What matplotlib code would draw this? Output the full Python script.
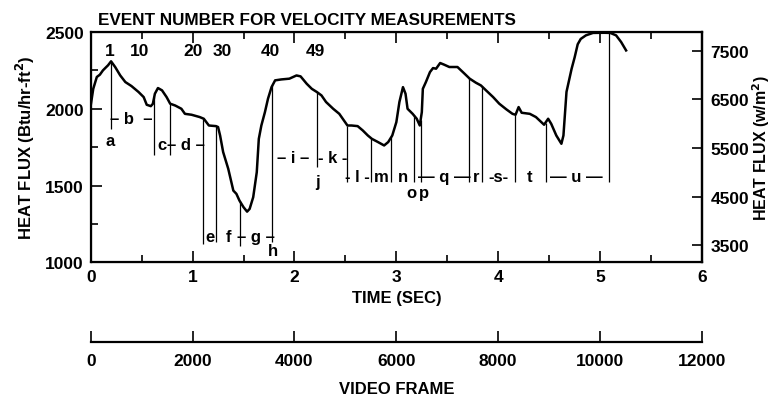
import matplotlib
matplotlib.use("Agg")
import matplotlib.pyplot as plt
import numpy as np

plt.rcParams['font.family'] = ['Liberation Sans', 'DejaVu Sans']
plt.rcParams['font.weight'] = 'bold'
plt.rcParams['axes.labelweight'] = 'bold'

# heat flux trace (time in s, Btu/hr-ft2)
time_s = [0.0, 0.025, 0.06, 0.09, 0.12, 0.15, 0.17, 0.20, 0.24, 0.29, 0.34, 0.40,
          0.47, 0.52, 0.55, 0.59, 0.61, 0.63, 0.66, 0.70, 0.745, 0.78, 0.83, 0.89,
          0.925, 0.99, 1.07, 1.11, 1.16, 1.23, 1.25, 1.27, 1.30, 1.35, 1.40, 1.43,
          1.46, 1.50, 1.535, 1.56, 1.595, 1.63, 1.65, 1.675, 1.71, 1.74, 1.775, 1.81,
          1.87, 1.95, 2.02, 2.06, 2.12, 2.17, 2.22, 2.265, 2.31, 2.38, 2.44, 2.52,
          2.56, 2.62, 2.67, 2.72, 2.76, 2.82, 2.88, 2.92, 2.96, 3.00, 3.03, 3.065,
          3.09, 3.11, 3.16, 3.20, 3.23, 3.25, 3.26, 3.29, 3.33, 3.36, 3.39, 3.43,
          3.47, 3.52, 3.60, 3.67, 3.72, 3.78, 3.83, 3.88, 3.95, 4.01, 4.08, 4.14,
          4.17, 4.20, 4.23, 4.31, 4.37, 4.45, 4.49, 4.52, 4.57, 4.62, 4.64, 4.67,
          4.72, 4.75, 4.78, 4.81, 4.86, 4.93, 5.04, 5.10, 5.157, 5.206, 5.255]
heat_flux = [2021, 2130, 2207, 2222, 2250, 2270, 2283, 2309, 2272, 2217, 2174, 2148,
             2109, 2076, 2026, 2017, 2032, 2098, 2135, 2120, 2076, 2033, 2021, 2000,
             1967, 1961, 1946, 1935, 1891, 1887, 1881, 1826, 1718, 1609, 1467, 1446,
             1402, 1359, 1330, 1348, 1424, 1587, 1804, 1891, 1978, 2065, 2141, 2185,
             2191, 2196, 2217, 2211, 2163, 2130, 2109, 2087, 2044, 2000, 1967, 1891,
             1891, 1887, 1859, 1826, 1804, 1783, 1761, 1783, 1826, 1913, 2044, 2141,
             2098, 2000, 1967, 1935, 1891, 1978, 2130, 2174, 2239, 2265, 2261, 2298,
             2287, 2272, 2272, 2228, 2196, 2170, 2152, 2120, 2076, 2033, 1996, 1967,
             1961, 2011, 1974, 1967, 1946, 1896, 1935, 1902, 1826, 1772, 1826, 2110,
             2260, 2335, 2420, 2455, 2478, 2494, 2495, 2494, 2478, 2435, 2380]

# event marker lines
event_t = [0.196, 0.624, 0.777, 1.104, 1.228, 1.464, 1.784, 2.222, 2.52, 2.755,
           2.95, 3.17, 3.238, 3.712, 3.84, 4.166, 4.464, 5.09]
event_bottom = [1870, 1700, 1700, 1119, 1130, 1108, 1130, 1620, 1522, 1522,
                1522, 1522, 1522, 1522, 1522, 1522, 1522, 1522]

# segment letters
seg_text = ['a', '– b  –', 'c', '– d –', 'e', 'f', '– g –', 'h', '– i –', 'j',
            '- k -', '- l -', 'm', 'n', 'o', 'p', '— q —', 'r', '-s-', 't', '— u —']
seg_t = [0.19, 0.40, 0.70, 0.93, 1.17, 1.35, 1.62, 1.784, 1.99, 2.222,
         2.38, 2.62, 2.85, 3.065, 3.145, 3.275, 3.47, 3.78, 4.0, 4.31, 4.77]
seg_q = [1793, 1935, 1765, 1765, 1170, 1170, 1170, 1076, 1685, 1525,
         1685, 1560, 1560, 1560, 1457, 1457, 1560, 1560, 1560, 1560, 1560]

# event numbers along the top
ev_num = ['1', '10', '20', '30', '40', '49']
ev_t = [0.19, 0.484, 1.006, 1.29, 1.76, 2.21]
ev_q = 2380

BTU_TO_SI = 3.1546   # (w/m2) per (Btu/hr-ft2)
frames = [0, 2000, 4000, 6000, 8000, 10000, 12000]

W, H = 774, 402
fig = plt.figure(figsize=(W / 100, H / 100), dpi=100)
L, R, T, B = 90.7, 702, 33, 263.3
ax = fig.add_axes([L / W, 1 - B / H, (R - L) / W, (B - T) / H])

ax.plot(time_s, heat_flux, color='black', lw=1.8, solid_joinstyle='round')
tops = np.interp(event_t, time_s, heat_flux)
ax.vlines(event_t, event_bottom, tops, color='black', lw=0.9)

for s, x, y in zip(seg_text, seg_t, seg_q):
    ax.text(x, y, s, ha='center', va='center', fontsize=12, fontweight='bold')
for s, x in zip(ev_num, ev_t):
    ax.text(x, ev_q, s, ha='center', va='center', fontsize=12.5, fontweight='bold')

ax.set_xlim(0, 6)
ax.set_ylim(1000, 2500)
ax.set_xticks(range(0, 7))
ax.set_xticks(np.arange(0, 6.01, 0.5), minor=True)
ax.set_yticks([1000, 1500, 2000, 2500])
ax.set_yticks(np.arange(1000, 2501, 250), minor=True)
ax.tick_params(which='both', direction='in', top=True, right=False, width=1.2,
               labelsize=12.5, pad=5)
ax.tick_params(which='major', length=8)
ax.tick_params(which='minor', length=5)
for sp in ax.spines.values():
    sp.set_linewidth(1.6)
ax.set_xlabel('TIME (SEC)', fontsize=12, labelpad=4)
ax.set_ylabel('HEAT FLUX (Btu/hr-ft$^\\mathbf{2}$)', fontsize=12, labelpad=6)

ax2 = ax.twinx()
ax2.set_ylim(1000 * BTU_TO_SI, 2500 * BTU_TO_SI)
ax2.set_yticks([3500, 4500, 5500, 6500, 7500])
ax2.tick_params(direction='in', length=7, width=1.2, labelsize=12.5, pad=6)
ax2.spines['right'].set_linewidth(1.6)
ax2.set_ylabel('HEAT FLUX (w/m$^\\mathbf{2}$)', fontsize=11.5, labelpad=1)

fig.text(98 / W, 1 - 20.5 / H, 'EVENT NUMBER FOR VELOCITY MEASUREMENTS',
         ha='left', va='center', fontsize=12.3, fontweight='bold')

# video frame scale
ax3 = fig.add_axes([L / W, 1 - 343.3 / H, (R - L) / W, 0.0001])
for k in ['left', 'right', 'top']:
    ax3.spines[k].set_visible(False)
ax3.spines['bottom'].set_linewidth(1.6)
ax3.set_yticks([])
ax3.set_xlim(0, 12000)
ax3.set_xticks(frames)
ax3.tick_params(direction='in', length=8, width=1.2, labelsize=12.5, pad=8)
ax3.set_xlabel('VIDEO FRAME', fontsize=12, labelpad=9)

fig.savefig('out.png', dpi=100)
